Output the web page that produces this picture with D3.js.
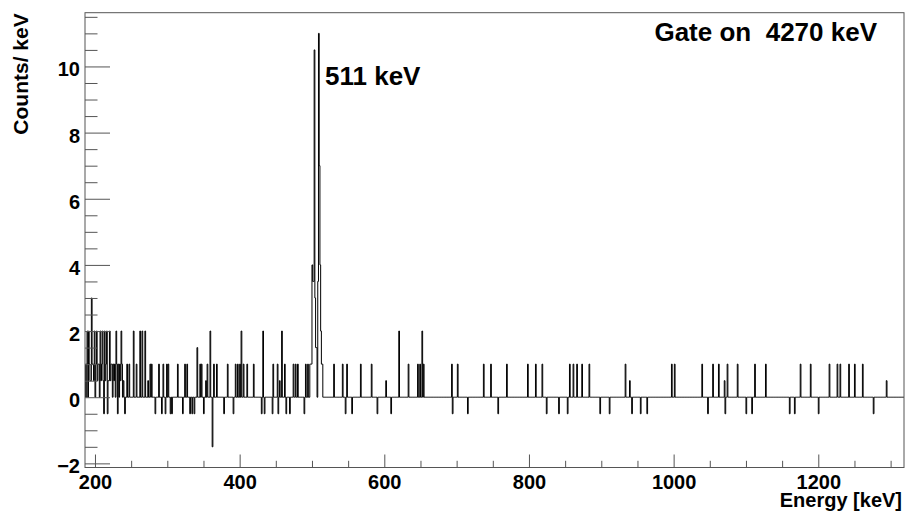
<!DOCTYPE html>
<meta charset="utf-8">
<style>
body { margin: 0; background: #fff; }
text { font-family: "Liberation Sans", Arial, Helvetica, sans-serif; font-weight: bold; }
.tick line { stroke: #555; }
.tick text { fill: #000; font-size: 20px; }
</style>
<body>
<script src="https://cdn.jsdelivr.net/npm/d3@7"></script>
<script>
// bin low edges (keV, 1 keV bins) and counts/keV of the non-empty bins
var binLow = [
  186, 188, 189, 191, 192, 193, 194, 195, 196, 197, 198, 199, 201, 202, 203, 204, 205, 207, 208, 209,
  210, 211, 212, 213, 214, 215, 216, 217, 218, 219, 220, 221, 222, 223, 225, 226, 227, 229, 230, 231,
  232, 234, 235, 236, 237, 239, 241, 244, 247, 253, 257, 262, 265, 269, 273, 276, 278, 283, 288, 292,
  294, 297, 299, 301, 304, 306, 314, 321, 324, 327, 331, 334, 337, 341, 345, 347, 350, 353, 355, 359,
  362, 364, 368, 378, 383, 391, 394, 397, 400, 402, 405, 410, 419, 430, 432, 434, 445, 446, 452, 453,
  455, 458, 462, 464, 469, 474, 477, 480, 489, 491, 494, 497, 498, 499, 500, 501, 502, 503, 504, 505,
  506, 508, 509, 510, 511, 512, 513, 514, 530, 542, 546, 548, 555, 567, 582, 590, 602, 609, 620, 633,
  646, 649, 652, 654, 693, 694, 701, 715, 737, 747, 757, 769, 798, 809, 818, 824, 841, 853, 856, 861,
  866, 873, 883, 898, 911, 933, 939, 942, 954, 963, 997, 1001, 1039, 1047, 1054, 1062, 1070, 1071, 1074, 1088,
  1100, 1108, 1112, 1127, 1160, 1167, 1175, 1189, 1200, 1215, 1226, 1230, 1242, 1250, 1261, 1276, 1294
];
var counts = [
  1, 1, 2, 2, 1, 0.5, 0.5, 3, 1, 1, 0.5, 2, 1, 2, 0.5, 1, 1, 2, 0.5, 1,
  2, 0.5, -0.5, 2, 0.5, 1, 2, -0.5, 0.5, 0.5, 2, 0.5, 1, 1, 1, 0.5, 1, 2, 1, -0.5,
  1, 1, 0.5, 2, 1, 0.5, -0.5, 1, 1, 2, 1, 2, 2, 2, 0.5, 1, 1, -0.5, 1, -0.5,
  1, -0.5, 1, 1, -0.5, -0.5, 1, -0.5, 1, 1, -0.5, -0.5, -0.5, 1.5, 1, 1, -0.5, 0.5, 1, 2,
  -1.5, 1, 1, -0.5, 1, -0.5, 1, 1, 1, 2, 1, 1, 1, -0.5, 2, -0.5, -0.5, 1, 1, -0.5,
  0.5, 2, 1, -0.5, -0.5, 1, 1, 1, -0.5, 1, 1, 1, 1, 1, 4, 3.5, 3.5, 10.5, 3, 1.5,
  1.5, 3.5, 11, 7, 4, 2, 1, 1, 1, 1, -0.5, 1, -0.5, 1, 1, -0.5, 0.5, -0.5, 2, 1,
  1, 1, 2, 1, 1, -0.5, 1, -0.5, 1, 1, -0.5, 1, 1, 1, 1, -0.5, -0.5, -0.5, 1, 1,
  1, 1, 1, -0.5, -0.5, 1, 0.5, -0.5, -0.5, -0.5, 1, 1, 1, -0.5, 1, 1, 0.5, -0.5, 1, 1,
  -0.5, -0.5, 1, 1, -0.5, -0.5, 1, 1, -0.5, 1, 1, 1, 1, 1, 1, -0.5, 0.5
];
var binWidth = 1;
var xRange = [186.2, 1318.5];
var yRange = [-2.125, 11.625];
var xTicks = [200, 400, 600, 800, 1000, 1200];
var xMinor = d3.range(250, 1318, 50).filter(function(d) { return d % 200 != 0; });
var yTicks = [-2, 0, 2, 4, 6, 8, 10];
var yMinor = d3.range(-1.5, 11.6, 0.5).filter(function(d) { return d % 2 != 0; });

var width = 906, height = 516;
var frame = {left: 85, right: 904, top: 12.7, bottom: 467.5};

var svg = d3.select("body").append("svg")
    .attr("width", width)
    .attr("height", height);

var x = d3.scaleLinear().domain(xRange).range([frame.left, frame.right]);
var y = d3.scaleLinear().domain(yRange).range([frame.bottom, frame.top]);

svg.append("clipPath").attr("id", "clip")
  .append("rect")
    .attr("x", frame.left).attr("y", frame.top)
    .attr("width", frame.right - frame.left).attr("height", frame.bottom - frame.top);

// fill every bin of the histogram, empty bins are 0
var lookup = new Map();
binLow.forEach(function(e, i) { lookup.set(e, counts[i]); });
var pts = [];
for (var e = 186; e < 1319; e += binWidth) {
  pts.push([e, lookup.has(e) ? lookup.get(e) : 0]);
}
pts.push([1319, 0]);

var line = d3.line()
    .x(function(d) { return x(d[0]); })
    .y(function(d) { return y(d[1]); })
    .curve(d3.curveStepAfter);

svg.append("path")
    .datum(pts)
    .attr("clip-path", "url(#clip)")
    .attr("fill", "none")
    .attr("stroke", "#000")
    .attr("stroke-width", 1)
    .attr("d", line);

// minor ticks
svg.append("g")
    .attr("transform", "translate(0," + frame.bottom + ")")
    .call(d3.axisBottom(x).tickValues(xMinor).tickSize(-6.7).tickFormat(""))
    .select(".domain").remove();
svg.append("g")
    .attr("transform", "translate(" + frame.left + ",0)")
    .call(d3.axisLeft(y).tickValues(yMinor).tickSize(-12.5).tickFormat(""))
    .select(".domain").remove();

// major ticks + labels
var gx = svg.append("g")
    .attr("transform", "translate(0," + frame.bottom + ")")
    .call(d3.axisBottom(x).tickValues(xTicks).tickFormat(d3.format("d"))
      .tickSizeInner(-13).tickSizeOuter(0).tickPadding(7));
gx.select(".domain").remove();

var gy = svg.append("g")
    .attr("transform", "translate(" + frame.left + ",0)")
    .call(d3.axisLeft(y).tickValues(yTicks).tickSizeInner(-25).tickSizeOuter(0).tickPadding(5));
gy.select(".domain").remove();
gy.selectAll(".tick text").attr("dy", "0.47em");

// frame
svg.append("rect")
    .attr("x", frame.left).attr("y", frame.top)
    .attr("width", frame.right - frame.left).attr("height", frame.bottom - frame.top)
    .attr("fill", "none")
    .attr("stroke", "#555");

// titles
svg.append("text")
    .attr("transform", "translate(28,13.3) rotate(-90)")
    .attr("text-anchor", "end")
    .style("font-size", "21px")
    .text("Counts/ keV");

svg.append("text")
    .attr("x", 902).attr("y", 507)
    .attr("text-anchor", "end")
    .style("font-size", "20px")
    .text("Energy [keV]");

svg.append("text")
    .attr("x", 877).attr("y", 41)
    .attr("text-anchor", "end")
    .style("font-size", "26px")
    .style("white-space", "pre")
    .text("Gate on  4270 keV");

svg.append("text")
    .attr("x", 325).attr("y", 85)
    .style("font-size", "26px")
    .text("511 keV");
</script>
</body>
